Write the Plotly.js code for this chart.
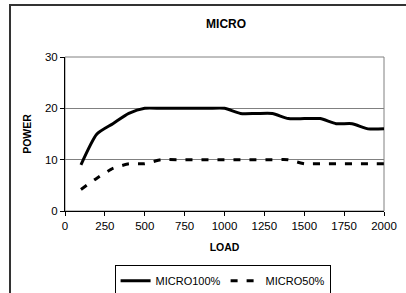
<!DOCTYPE html>
<html>
<head>
<meta charset="utf-8">
<script src="https://cdn.plot.ly/plotly-3.0.1.min.js"></script>
<style>
html,body{margin:0;padding:0;background:#fff;}
#chart{width:406px;height:293px;}
</style>
</head>
<body>
<div id="chart"></div>
<script>
const load = [100,200,300,400,500,600,700,800,900,1000,1100,1200,1300,1400,1500,1600,1700,1800,1900,2000];
const micro100 = [9,15,17,19,20,20,20,20,20,20,19,19,19,18,18,18,17,17,16,16];
const micro50 = [4.2,6.4,8.3,9.2,9.2,10,10,10,10,10,10,10,10,10,9.2,9.2,9.2,9.2,9.2,9.2];
const seriesNames = ['MICRO100%','MICRO50%'];
const xTicks = [0,250,500,750,1000,1250,1500,1750,2000];
const yTicks = [0,10,20,30];

const FONT = 'Liberation Sans, Arial, sans-serif';

const traces = [
  {x: load, y: micro100, name: seriesNames[0], mode: 'lines',
   line: {color: '#000', width: 3, shape: 'spline', smoothing: 0.6}},
  {x: load, y: micro50, name: seriesNames[1], mode: 'lines',
   line: {color: '#000', width: 3, dash: '7px,9px', shape: 'spline', smoothing: 0.4}}
];

const layout = {
  width: 406, height: 293,
  margin: {l: 65, r: 22, t: 57, b: 82, autoexpand: false},
  paper_bgcolor: '#fff', plot_bgcolor: '#fff',
  font: {family: FONT, color: '#000', size: 11},
  title: {text: '<b>MICRO</b>', font: {family: FONT, size: 12, color: '#000'},
          x: 0.505, xanchor: 'center', y: 0.918, yanchor: 'middle', xref: 'paper'},
  xaxis: {range: [0, 2000], tickvals: xTicks, ticktext: xTicks.map(String), automargin: false,
          showgrid: false, zeroline: false, showline: true, linecolor: '#000', linewidth: 1,
          ticks: 'outside', ticklen: 4, tickcolor: '#000', tickfont: {size: 11.5},
          title: {text: '<b>LOAD</b>', font: {size: 10.5}, standoff: 12}},
  yaxis: {range: [0, 30], tickvals: yTicks, ticktext: yTicks.map(String), automargin: false,
          showgrid: true, gridcolor: '#808080', gridwidth: 1,
          zeroline: false, showline: true, linecolor: '#000', linewidth: 1,
          ticks: 'outside', ticklen: 4, tickcolor: '#000', tickfont: {size: 11.5},
          title: {text: '<b>POWER</b>', font: {size: 10.5}, standoff: 11}},
  showlegend: true,
  legend: {orientation: 'h', x: 0.494, xanchor: 'center', y: -0.352, yanchor: 'top',
           bordercolor: '#000', borderwidth: 1, font: {size: 11}, bgcolor: '#fff',
           itemwidth: 30, tracegroupgap: 0},
  shapes: [
    {type: 'rect', xref: 'paper', yref: 'paper', x0: 0, x1: 1, y0: 0, y1: 1,
     line: {color: '#808080', width: 1}, layer: 'below'},
    {type: 'rect', xref: 'paper', yref: 'paper', x0: -0.1724, x1: 1.3, y0: -0.8, y1: 1.338,
     line: {color: '#333', width: 2}, layer: 'below'}
  ]
};

Plotly.newPlot('chart', traces, layout, {displayModeBar: false, staticPlot: true});
</script>
</body>
</html>
